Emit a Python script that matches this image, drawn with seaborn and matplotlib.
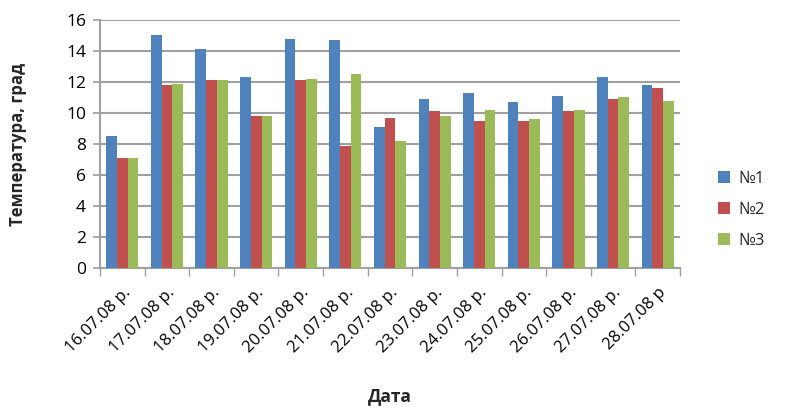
import matplotlib
matplotlib.use("Agg")
import matplotlib.pyplot as plt
import seaborn as sns
import pandas as pd

dates = ["16.07.08 р.", "17.07.08 р.", "18.07.08 р.", "19.07.08 р.", "20.07.08 р.",
         "21.07.08 р.", "22.07.08 р.", "23.07.08 р.", "24.07.08 р.", "25.07.08 р.",
         "26.07.08 р.", "27.07.08 р.", "28.07.08 р"]
s1 = [8.5, 15.0, 14.1, 12.3, 14.8, 14.7, 9.1, 10.9, 11.3, 10.7, 11.1, 12.3, 11.8]
s2 = [7.1, 11.8, 12.1, 9.8, 12.1, 7.9, 9.7, 10.1, 9.5, 9.5, 10.1, 10.9, 11.6]
s3 = [7.1, 11.9, 12.1, 9.8, 12.2, 12.5, 8.2, 9.8, 10.2, 9.6, 10.2, 11.0, 10.8]
series_names = ["№1", "№2", "№3"]
colors = ["#4F81BD", "#C0504D", "#9BBB59"]

rows = []
for name, vals in zip(series_names, [s1, s2, s3]):
    for d, v in zip(dates, vals):
        rows.append({"Дата": d, "Серія": name, "Значення": v})
df = pd.DataFrame(rows)

sns.set_theme(style="white")
plt.rcParams["font.family"] = ["Open Sans", "DejaVu Sans"]

fig = plt.figure(figsize=(8, 4.15), dpi=100)
ax = fig.add_axes([0.125, 0.354, 0.725, 0.598])
sns.barplot(data=df, x="Дата", y="Значення", hue="Серія", palette=colors,
            width=0.72, ax=ax, zorder=3, saturation=1, edgecolor="none")
ax.set_ylim(0, 16)
ax.set_yticks(range(0, 17, 2))
ax.set_xlim(-0.5, len(dates) - 0.5)
ax.yaxis.grid(True, color="#a0a0a0", linewidth=1.5, zorder=0)
ax.set_axisbelow(True)
for sp in ["top", "right"]:
    ax.spines[sp].set_visible(False)
for sp in ["left", "bottom"]:
    ax.spines[sp].set_color("#a0a0a0")
    ax.spines[sp].set_linewidth(1.5)
ax.tick_params(axis="y", labelsize=12.5, colors="black", length=5, color="#a0a0a0", left=True, pad=5)
ax.tick_params(axis="x", labelsize=12, colors="black", color="#a0a0a0", bottom=True)
ax.set_xticks([i - 0.5 for i in range(len(dates) + 1)], minor=True)
ax.tick_params(axis="x", which="minor", length=6, color="#a0a0a0", bottom=True)
ax.tick_params(axis="x", which="major", length=0, pad=12)
plt.setp(ax.get_xticklabels(), rotation=45, ha="right", rotation_mode="anchor")
ax.set_ylabel("Температура, град", fontsize=12, fontweight="bold", labelpad=28)
ax.set_xlabel("Дата", fontsize=12.5, fontweight="bold", labelpad=22)
leg = ax.legend(loc="center left", bbox_to_anchor=(1.04, 0.235), frameon=False,
                fontsize=12, handlelength=0.7, handleheight=0.7, labelspacing=0.9,
                handletextpad=0.5)
fig.savefig("out.png", dpi=100)
